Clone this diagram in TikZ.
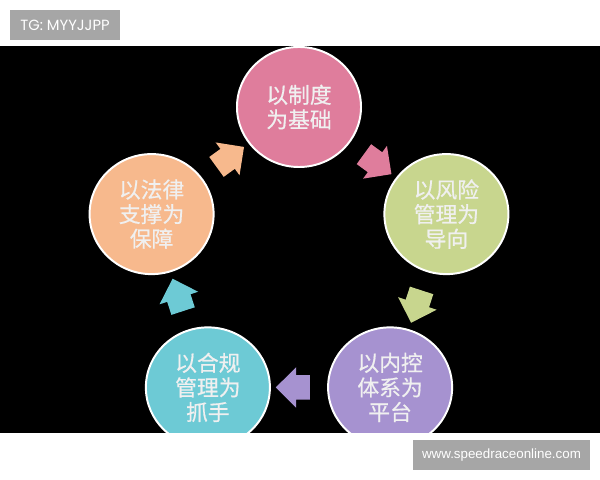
\documentclass[tikz,border=0pt]{standalone}
\usepackage{fontspec}
\newfontfamily\cjk[FakeBold=0.6]{Noto Sans CJK SC}
\newfontfamily\wm{Poppins}
\newfontfamily\wmurl{Liberation Sans}
\usetikzlibrary{calc, shapes.geometric, shapes.arrows}
\definecolor{cpink}{HTML}{DF7D9C}
\definecolor{cgreen}{HTML}{C8D68E}
\definecolor{cpurple}{HTML}{A692D0}
\definecolor{ccyan}{HTML}{6DCAD5}
\definecolor{corange}{HTML}{F7B98D}
\definecolor{wmgray}{HTML}{A6A6A6}

\begin{document}
\begin{tikzpicture}[x=0.025cm, y=0.025cm,
    blob/.style={ellipse, draw=white, line width=1.4pt, minimum width=3.1cm, minimum height=3cm, inner sep=0pt,
        text=white!94!black, align=center, font=\cjk\fontsize{15.5}{17.5}\selectfont},
    blockarr/.style={single arrow, draw=none, inner xsep=0pt, inner ysep=0.3cm, minimum height=0.85cm,
        minimum width=1cm, single arrow head extend=0.2cm},
    tag/.style={fill=wmgray, text=white, inner sep=0pt, minimum height=0.75cm}]
        \useasboundingbox (0,0) rectangle (600,480);
        \fill[black] (0,47) rectangle (600,434);
        \coordinate (mid) at (299,218);
        \begin{scope}
        \clip (0,47) rectangle (600,434);
        \foreach \ang/\nm/\col/\txt in {90/base/cpink/{以制度\\为基础}, 18/risk/cgreen/{以风险\\管理为\\导向},
            -54/ctrl/cpurple/{以内控\\体系为\\平台}, -126/comp/ccyan/{以合规\\管理为\\抓手}, 162/law/corange/{以法律\\支撑为\\保障}} {
        \node[blob, fill=\col] (\nm) at ($(mid)+(\ang:155)$) {\txt};
        }
        % block arrows halfway between the circles
        \foreach \a/\b/\col/\dir in {law/base/corange/36, base/risk/cpink/-36, risk/ctrl/cgreen/-108,
            ctrl/comp/cpurple/180, comp/law/ccyan/108} {
        \node[blockarr, fill=\col, rotate=\dir] (\a-\b) at ($(\a)!0.5!(\b)$) {};
        }
        \end{scope}
        \node[tag, minimum width=2.75cm, font=\wm\fontsize{10.5}{12}\selectfont] (tg) at (65,455) {TG: MYYJJPP};
        \node[tag, minimum width=4.425cm, font=\wmurl\fontsize{9.5}{11}\selectfont] (url) at (501.5,25) {www.speedraceonline.com};
    \end{tikzpicture}
\end{document}
